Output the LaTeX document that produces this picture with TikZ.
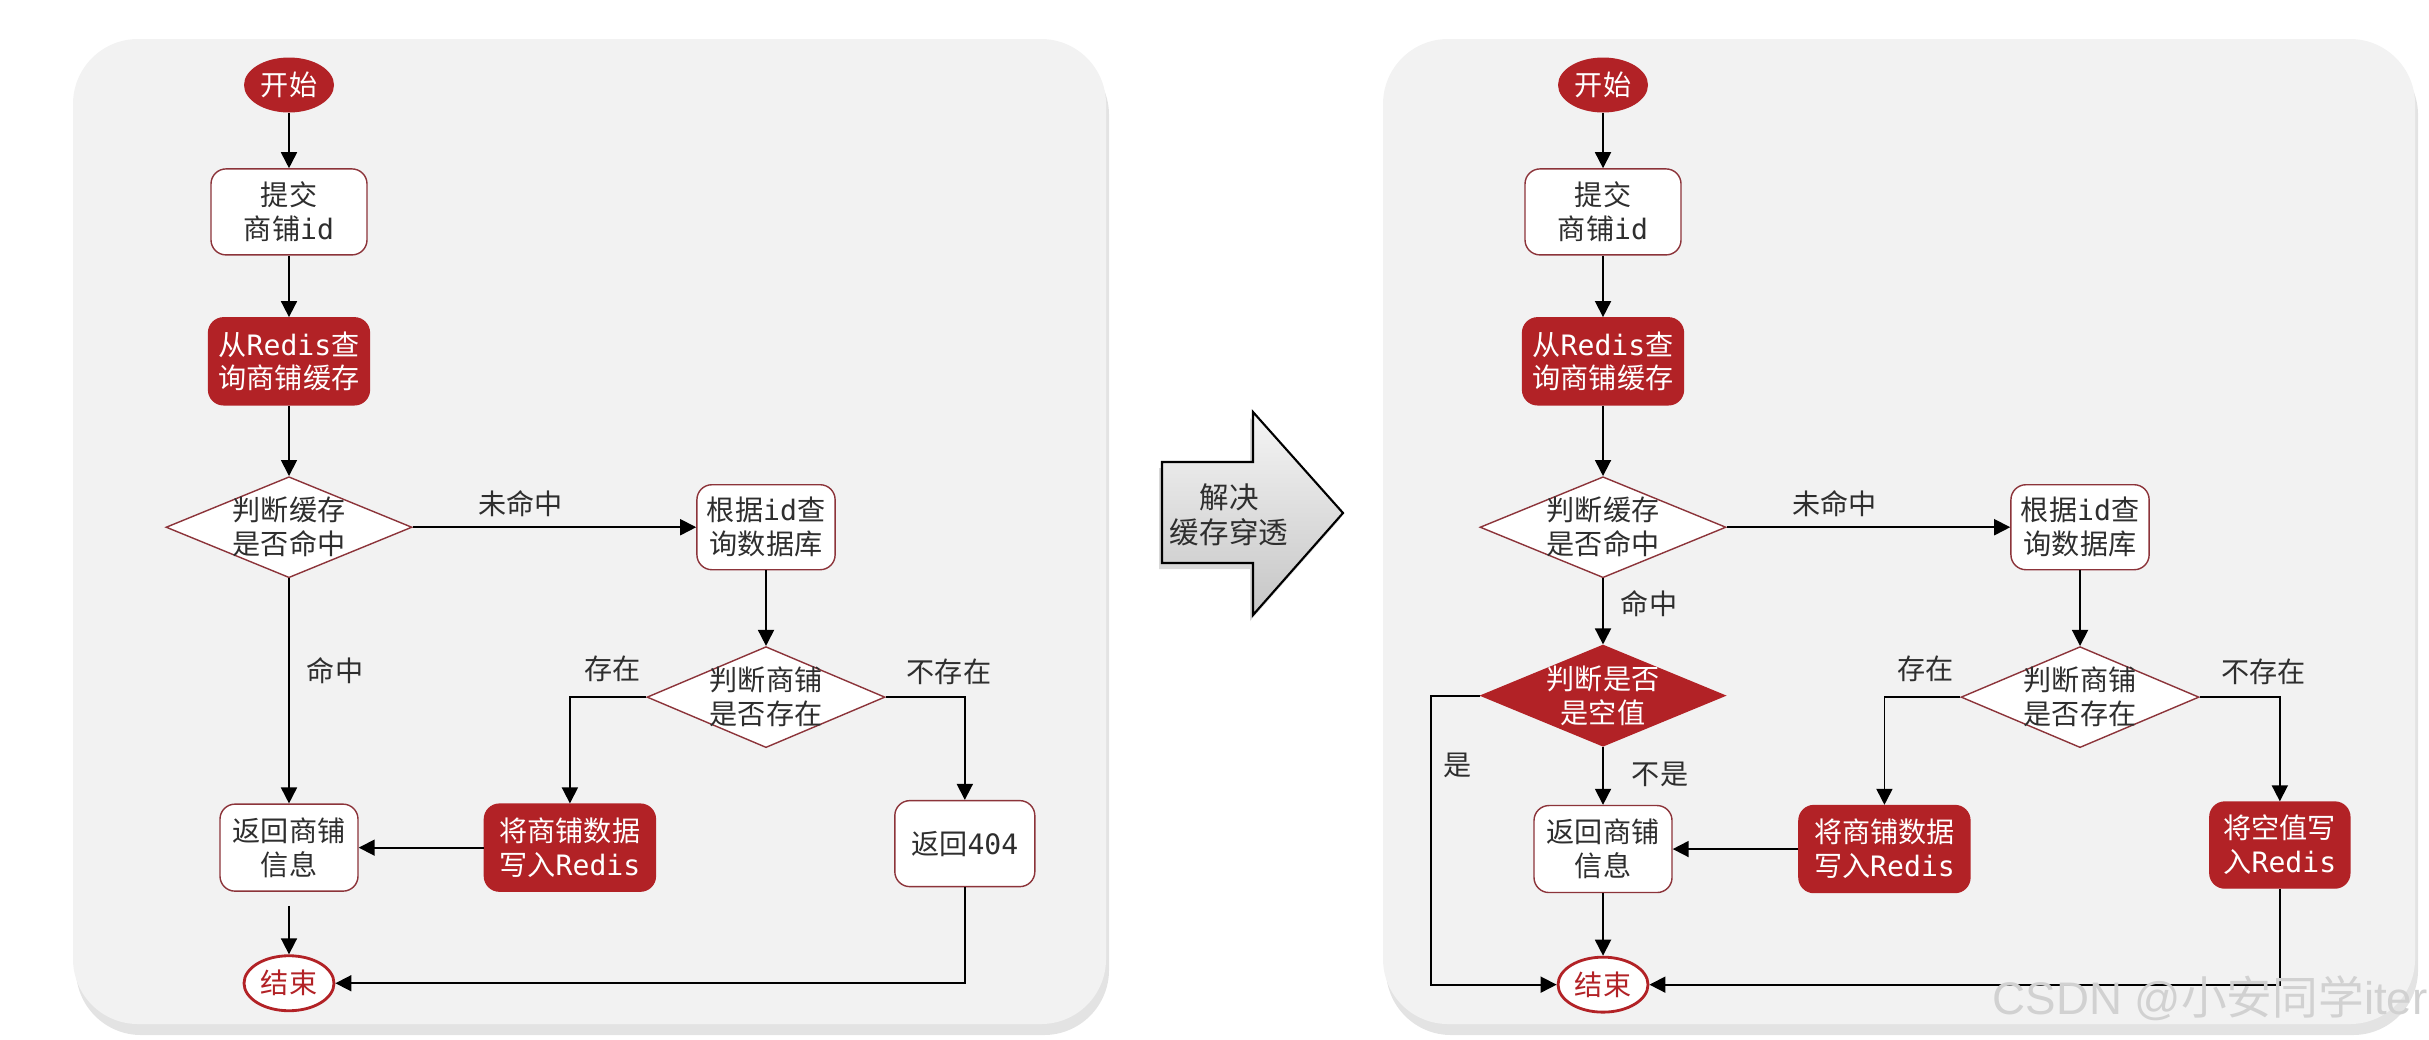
\documentclass[tikz,border=0pt]{standalone}
\usepackage{fontspec}
\setmainfont{Noto Sans CJK SC}
\setmonofont{DejaVu Sans Mono}
\newfontfamily\markfont{Liberation Sans}
\usepackage{xcolor}
\usetikzlibrary{positioning,arrows.meta,shapes.geometric,shadows}
\definecolor{brick}{RGB}{178,34,38}
\definecolor{boxline}{RGB}{140,52,58}
\definecolor{ink}{RGB}{46,46,46}
\definecolor{panel}{RGB}{242,242,242}
\newcommand{\redis}{\texttt{Redis}}

\begin{document}
\begin{tikzpicture}[
  font=\fontsize{8}{9.64}\selectfont,
  box/.style={draw=boxline, fill=white, text=ink, rounded corners=1.5mm, line width=0.4pt, align=center, inner sep=1mm, minimum width=1.38cm, minimum height=0.86cm},
  hot/.style={box, draw=brick, fill=brick, text=white},
  ask/.style={diamond, draw=boxline, fill=white, text=ink, line width=0.4pt, align=center, inner sep=-1mm, aspect=2.4, minimum width=2.46cm, minimum height=1.01cm},
  term/.style={ellipse, inner sep=0.3mm, minimum width=0.9cm, minimum height=0.55cm},
  flow/.style={line width=0.5pt, -{Triangle[length=1.6mm,width=1.6mm]}},
  tag/.style={text=ink, inner sep=0.5mm},
  sheet/.style={fill=panel, rounded corners=6.5mm, drop shadow={opacity=0.22, shadow xshift=0.3mm, shadow yshift=-1.1mm}}
]
  \useasboundingbox (0,0) rectangle (24.29,-10.39);
  \path[sheet] (0.73,-0.39) rectangle (11.06,-10.24);
  \path[sheet] (13.83,-0.39) rectangle (24.15,-10.24);

  \node[term, fill=brick, text=white] (start) at (2.89,-0.85) {开始};
  \node[box, minimum width=1.56cm, below=5.5mm of start] (submit) {提交\\商铺\texttt{id}};
  \node[hot, minimum width=1.57cm, minimum height=0.87cm, below=6.15mm of submit] (query) {从\redis 查\\询商铺缓存};
  \node[ask, below=7.05mm of query] (hit) {判断缓存\\是否命中};
  \node[box, minimum height=0.85cm, right=28.35mm of hit] (dbq) {根据\texttt{id}查\\询数据库};
  \node[ask, minimum width=2.38cm, below=7.55mm of dbq] (exist) {判断商铺\\是否存在};
  \node[box, minimum height=0.87cm, below=22.5mm of hit] (back) {返回商铺\\信息};
  \node[hot, minimum width=1.71cm, minimum height=0.87cm, right=12.5mm of back] (save) {将商铺数据\\写入\redis};
  \node[box, minimum width=1.4cm, right=23.8mm of save, yshift=0.4mm] (nf) {返回\texttt{404}};
  \node[term, draw=brick, line width=0.8pt, fill=white, text=brick, below=6.25mm of back] (stop) {结束};

  \draw[flow] (start) -- (submit);
  \draw[flow] (submit) -- (query);
  \draw[flow] (query) -- (hit);
  \draw[flow] (hit) -- node[tag, above=0.5mm, pos=0.38] (miss) {未命中} (dbq);
  \draw[flow] (hit) -- node[tag, right=1.2mm, pos=0.41] (got) {命中} (back);
  \draw[flow] (dbq) -- (exist);
  \draw[flow] (exist.west) -| node[tag, above=1mm, pos=0.22] (yes) {存在} (save.north);
  \draw[flow] (exist.east) -| node[tag, above=0.7mm, pos=0.4] (no) {不存在} (nf.north);
  \draw[flow] (save) -- (back);
  \draw[flow, shorten <=1.4mm] (back) -- (stop);
  \draw[flow] (nf.south) |- (stop.east);

  \draw[line width=0.6pt, top color=gray!8, bottom color=gray!45, drop shadow={opacity=0.3, shadow xshift=-0.3mm, shadow yshift=-0.6mm}]
    (11.62,-4.62) -- (12.53,-4.62) -- (12.53,-4.12) -- (13.43,-5.13) -- (12.53,-6.15) -- (12.53,-5.63) -- (11.62,-5.63) -- cycle;
  \node[text=ink, align=center, font=\fontsize{8.4}{9.9}\selectfont] (fix) at (12.29,-5.15) {解决\\缓存穿透};

  \node[term, fill=brick, text=white] (start2) at (16.03,-0.85) {开始};
  \node[box, minimum width=1.56cm, below=5.5mm of start2] (submit2) {提交\\商铺\texttt{id}};
  \node[hot, minimum width=1.57cm, minimum height=0.87cm, below=6.15mm of submit2] (query2) {从\redis 查\\询商铺缓存};
  \node[ask, below=7.05mm of query2] (hit2) {判断缓存\\是否命中};
  \node[box, minimum height=0.85cm, right=28.35mm of hit2] (dbq2) {根据\texttt{id}查\\询数据库};
  \node[ask, minimum width=2.38cm, below=7.55mm of dbq2] (exist2) {判断商铺\\是否存在};
  \node[ask, draw=brick, fill=brick, text=white, minimum width=2.44cm, below=6.6mm of hit2] (blank) {判断是否\\是空值};
  \node[box, minimum height=0.87cm, below=5.8mm of blank] (back2) {返回商铺\\信息};
  \node[hot, minimum width=1.71cm, minimum height=0.87cm, right=12.55mm of back2] (save2) {将商铺数据\\写入\redis};
  \node[hot, minimum width=1.4cm, right=23.85mm of save2, yshift=0.4mm] (nullw) {将空值写\\入\redis};
  \node[term, draw=brick, line width=0.8pt, fill=white, text=brick, below=6.25mm of back2] (stop2) {结束};

  \draw[flow] (start2) -- (submit2);
  \draw[flow] (submit2) -- (query2);
  \draw[flow] (query2) -- (hit2);
  \draw[flow] (hit2) -- node[tag, above=0.5mm, pos=0.38] (miss2) {未命中} (dbq2);
  \draw[flow] (hit2) -- node[tag, right=1.2mm, pos=0.38] (got2) {命中} (blank);
  \draw[flow] (blank) -- node[tag, right=2.3mm, pos=0.48] (notnull) {不是} (back2);
  \draw[flow] (blank.west) -- ++(-4.9mm,0) |- node[tag, right=0.6mm, pos=0.12] (isnull) {是} (stop2.west);
  \draw[flow] (dbq2) -- (exist2);
  \draw[flow] (exist2.west) -| node[tag, above=1mm, pos=0.23] (yes2) {存在} (save2.north);
  \draw[flow] (exist2.east) -| node[tag, above=0.7mm, pos=0.4] (no2) {不存在} (nullw.north);
  \draw[flow] (save2) -- (back2);
  \draw[flow] (back2) -- (stop2);
  \draw[flow] (nullw.south) |- (stop2.east);

  \node[anchor=west, inner sep=0, text=black!18, font=\fontsize{13}{14}\selectfont] (mark) at (19.92,-9.98) {{\markfont CSDN @}小安同学{\markfont iter}};
\end{tikzpicture}
\end{document}
